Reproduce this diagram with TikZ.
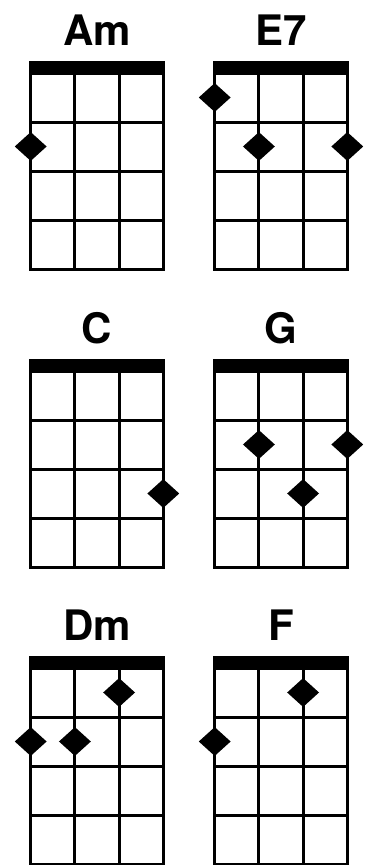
\documentclass[tikz,border=0pt]{standalone}
\usepackage{fontspec}
\setmainfont{TeX Gyre Heros}
\usetikzlibrary{shapes.geometric}
\tikzset{
  fingerdot/.style={diamond, fill=black, inner sep=0pt, minimum width=32pt, minimum height=29pt},
  chordtitle/.style={font=\bfseries\fontsize{42}{42}\selectfont, anchor=base, inner sep=0pt},
  fretline/.style={line width=3pt, draw=black},
}
\newcommand\chordbox[4]{%
  \fill (#2-1.5,#3) rectangle (#2+134.1,#3+11.5);
  \draw[fretline] (#2,#3+12) rectangle (#2+132.6,#3+208);
  \foreach \i in {1,2} \draw[fretline] (#2+44.2*\i,#3+12) -- (#2+44.2*\i,#3+208);
  \foreach \j in {1,2,3} \draw[fretline] (#2,#3+12+49*\j) -- (#2+132.6,#3+12+49*\j);
  \node[chordtitle] (#1) at (#2+66.3,#3-16) {#4};
}
\newcommand\fing[5]{%
  \node[fingerdot] (#1) at (#2+44.2*#4,#3+12+49*#5-24.5) {};
}
\begin{document}
\begin{tikzpicture}[x=1pt,y=-1pt]
\useasboundingbox (0,0) rectangle (366,865);
% row 1
\chordbox{am}{30.7}{61}{Am}
\fing{am1}{30.7}{61}{0}{2}
\chordbox{e7}{214.7}{61}{E7}
\fing{e71}{214.7}{61}{0}{1}
\fing{e72}{214.7}{61}{1}{2}
\fing{e73}{214.7}{61}{3}{2}
% row 2
\chordbox{c}{30.7}{359}{C}
\fing{c1}{30.7}{359}{3}{3}
\chordbox{g}{214.7}{359}{G}
\fing{g1}{214.7}{359}{1}{2}
\fing{g2}{214.7}{359}{3}{2}
\fing{g3}{214.7}{359}{2}{3}
% row 3
\chordbox{dm}{30.7}{656}{Dm}
\fing{dm1}{30.7}{656}{2}{1}
\fing{dm2}{30.7}{656}{0}{2}
\fing{dm3}{30.7}{656}{1}{2}
\chordbox{f}{214.7}{656}{F}
\fing{f1}{214.7}{656}{2}{1}
\fing{f2}{214.7}{656}{0}{2}
\end{tikzpicture}
\end{document}
